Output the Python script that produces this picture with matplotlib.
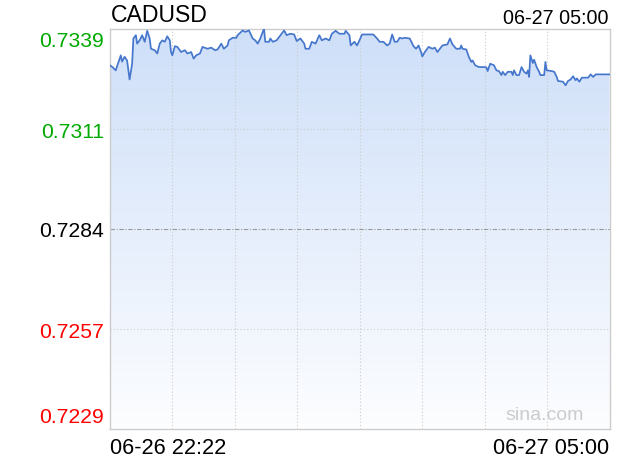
import numpy as np
import matplotlib
matplotlib.use("Agg")
import matplotlib.pyplot as plt
from matplotlib.patches import Polygon

plt.rcParams['font.family'] = ['Liberation Sans', 'DejaVu Sans']

# ---- data (minutes after 06-26 22:22, price) ----
symbol = "CADUSD"
start_label = "06-26 22:22"
end_label = "06-27 05:00"
prev_close = 0.7284
span_pct = 0.0075
y_tick_labels = ["0.7339", "0.7311", "0.7284", "0.7257", "0.7229"]
y_tick_colors = ["#00aa00", "#00aa00", "#000000", "#ff0000", "#ff0000"]
total_minutes = 398

minutes = [0, 2, 5, 6, 9, 10, 12, 14, 16, 18, 19, 21, 22, 24, 26, 28, 30, 32, 33, 36,
           38, 40, 42, 44, 46, 48, 49, 50, 52, 54, 57, 60, 62, 65, 67, 69, 72, 74, 78, 81,
           84, 86, 89, 91, 94, 95, 98, 101, 102, 106, 108, 111, 114, 116, 118, 120, 123, 124, 127, 128,
           130, 133, 135, 136, 139, 141, 144, 147, 149, 152, 155, 156, 159, 161, 164, 167, 169, 172, 175, 177,
           180, 183, 187, 188, 191, 192, 195, 197, 199, 201, 210, 213, 215, 218, 221, 223, 225, 227, 229, 231,
           233, 235, 239, 241, 242, 244, 246, 248, 249, 251, 254, 257, 259, 261, 263, 265, 269, 271, 273, 276,
           279, 280, 281, 284, 286, 288, 289, 291, 294, 298, 300, 301, 303, 306, 308, 310, 312, 313, 315, 317,
           320, 321, 322, 324, 326, 328, 330, 332, 333, 334, 335, 337, 338, 340, 342, 343, 346, 347, 348, 352,
           354, 356, 357, 361, 363, 365, 367, 369, 371, 372, 374, 376, 381, 383, 385, 387, 398]
prices = [0.73286, 0.73282, 0.73272, 0.73283, 0.73313, 0.73296, 0.73309, 0.73299, 0.73247, 0.73290,
          0.73359, 0.73368, 0.73345, 0.73354, 0.73368, 0.73350, 0.73380, 0.73359, 0.73331, 0.73327,
          0.73318, 0.73345, 0.73354, 0.73350, 0.73365, 0.73354, 0.73322, 0.73313, 0.73338, 0.73336,
          0.73322, 0.73327, 0.73318, 0.73322, 0.73304, 0.73313, 0.73318, 0.73336, 0.73331, 0.73334,
          0.73327, 0.73329, 0.73345, 0.73331, 0.73340, 0.73354, 0.73361, 0.73361, 0.73368, 0.73381,
          0.73377, 0.73381, 0.73359, 0.73354, 0.73345, 0.73359, 0.73386, 0.73350, 0.73350, 0.73359,
          0.73350, 0.73354, 0.73363, 0.73368, 0.73381, 0.73368, 0.73372, 0.73370, 0.73352, 0.73359,
          0.73345, 0.73331, 0.73331, 0.73350, 0.73345, 0.73368, 0.73354, 0.73359, 0.73354, 0.73372,
          0.73380, 0.73372, 0.73372, 0.73380, 0.73368, 0.73340, 0.73350, 0.73340, 0.73354, 0.73370,
          0.73370, 0.73359, 0.73350, 0.73350, 0.73340, 0.73345, 0.73370, 0.73350, 0.73350, 0.73361,
          0.73359, 0.73361, 0.73359, 0.73345, 0.73338, 0.73331, 0.73340, 0.73322, 0.73310, 0.73322,
          0.73336, 0.73331, 0.73334, 0.73322, 0.73331, 0.73340, 0.73343, 0.73359, 0.73343, 0.73331,
          0.73331, 0.73340, 0.73331, 0.73329, 0.73309, 0.73295, 0.73299, 0.73286, 0.73281, 0.73281,
          0.73280, 0.73270, 0.73290, 0.73286, 0.73272, 0.73270, 0.73259, 0.73268, 0.73259, 0.73268,
          0.73268, 0.73259, 0.73272, 0.73259, 0.73259, 0.73281, 0.73268, 0.73263, 0.73272, 0.73254,
          0.73313, 0.73292, 0.73301, 0.73281, 0.73268, 0.73259, 0.73259, 0.73295, 0.73272, 0.73270,
          0.73268, 0.73254, 0.73243, 0.73241, 0.73231, 0.73243, 0.73247, 0.73256, 0.73245, 0.73250,
          0.73241, 0.73252, 0.73252, 0.73261, 0.73254, 0.73261, 0.73261]

W, H = 620, 460
fig = plt.figure(figsize=(W / 100, H / 100), dpi=100)
fig.patch.set_facecolor("white")
L, R, T, B = 109.5, 609.5, 29.5, 429.5
ax = fig.add_axes([L / W, 1 - B / H, (R - L) / W, (B - T) / H])

ymin = prev_close * (1 - span_pct)
ymax = prev_close * (1 + span_pct)
ax.set_xlim(0, total_minutes)
ax.set_ylim(ymin, ymax)

x = np.array(minutes, dtype=float)
y = np.array(prices)

# gradient fill under the line
grad = np.linspace(0, 1, 256).reshape(-1, 1)
top_c = np.array([0.808, 0.875, 0.975])
bot_c = np.array([0.99, 0.993, 1.0])
img = top_c[None, None, :] * (1 - grad[:, :, None]) + bot_c[None, None, :] * grad[:, :, None]
im = ax.imshow(img, extent=[0, total_minutes, ymin, y.max()], origin="upper",
               aspect="auto", zorder=1, interpolation="bilinear")
poly_xy = np.column_stack([np.r_[x[0], x, x[-1]], np.r_[ymin, y, ymin]])
clip = Polygon(poly_xy, closed=True, transform=ax.transData, facecolor="none", edgecolor="none")
ax.add_patch(clip)
im.set_clip_path(clip)

ax.plot(x, y, color="#4677cc", linewidth=1.25, zorder=3)

# grid
for k in range(1, 8):
    ax.axvline(total_minutes * k / 8, color="#cccccc", linewidth=0.8,
               linestyle=(0, (1, 2)), zorder=2)
levels = np.linspace(ymax, ymin, 5)
for i, lv in enumerate(levels[1:-1], start=1):
    if i == 2:
        ax.axhline(lv, color="#999999", linewidth=0.8, linestyle=(0, (4, 1.5, 1, 1.5)), zorder=2)
    else:
        ax.axhline(lv, color="#cccccc", linewidth=0.8, linestyle=(0, (1, 2)), zorder=2)

ax.set_xticks([])
ax.set_yticks([])
for s in ax.spines.values():
    s.set_color("#cccccc")
    s.set_linewidth(1)

# y labels (baseline positions in pixels from top)
baselines = [46.7, 137.5, 237.5, 337.5, 423.0]
for lab, col, bl in zip(y_tick_labels, y_tick_colors, baselines):
    fig.text(104 / W, 1 - bl / H, lab, color=col, fontsize=15.2,
             ha="right", va="baseline")

fig.text(110.5 / W, 1 - 22.5 / H, symbol, fontsize=16.6, ha="left", va="baseline", color="black")
fig.text(608.5 / W, 1 - 24.3 / H, end_label, fontsize=14.2, ha="right", va="baseline", color="black")
fig.text(110.5 / W, 1 - 454 / H, start_label, fontsize=15.7, ha="left", va="baseline", color="black")
fig.text(609 / W, 1 - 454 / H, end_label, fontsize=15.7, ha="right", va="baseline", color="black")
fig.text(584 / W, 1 - 420.5 / H, "sina.com", fontsize=14, ha="right", va="baseline", color="#cccccc")

fig.savefig("out.png", dpi=100, facecolor="white")
